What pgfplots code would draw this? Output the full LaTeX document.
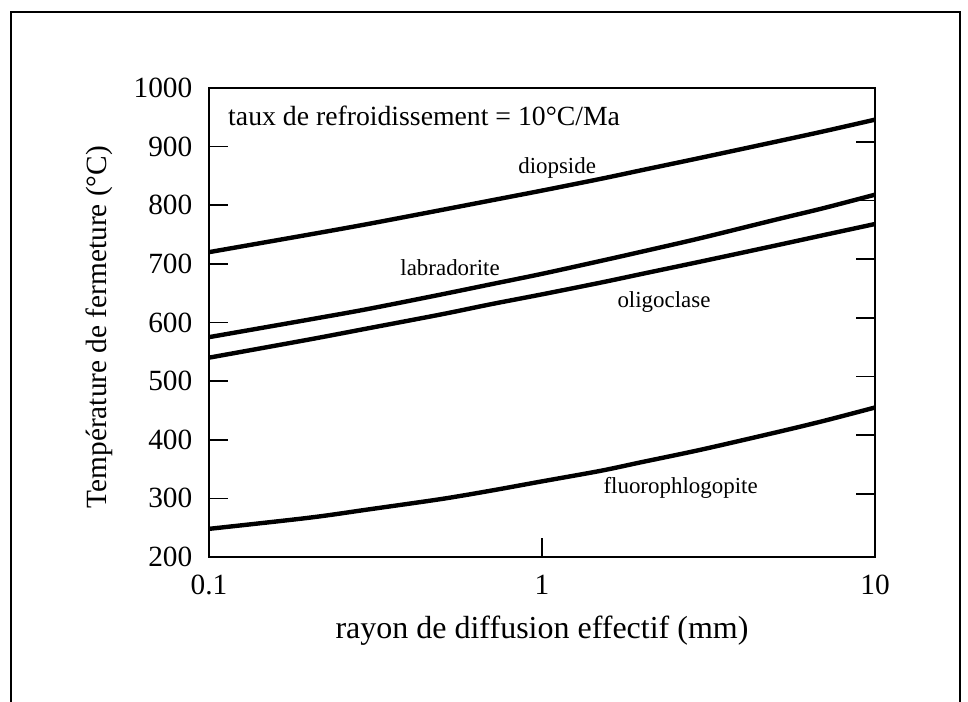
\documentclass[border=0pt]{standalone}
\usepackage{fontspec}
\setmainfont{Liberation Serif}
\usepackage{pgfplots}
\pgfplotsset{compat=1.18}
\begin{document}
\begin{tikzpicture}
\path[use as bounding box] (0pt,0pt) rectangle (726pt,526.5pt);
\draw[line width=1.3pt] (8.5pt,-10pt) -- (8.5pt,517.5pt) -- (720pt,517.5pt) -- (720pt,-10pt);
\begin{axis}[
  at={(156.75pt,108.75pt)}, anchor=south west,
  scale only axis, width=499.5pt, height=351.75pt,
  xmode=log, xmin=0.1, xmax=10, ymin=200, ymax=1000,
  axis line style={line width=1.4pt},
  xtick={0.1,1,10}, xticklabels={0.1,1,10},
  xminorticks=false, yminorticks=false,
  ytick={200,300,...,1000},
  xtick pos=bottom, ytick pos=left,
  tick align=inside, major tick length=14pt,
  tick style={line width=1.3pt, black},
  /pgf/number format/assume math mode=true,
  /pgf/number format/set thousands separator={},
  ticklabel style={font=\fontsize{22}{26}\selectfont},
  xticklabel style={yshift=-10pt},
  yticklabel style={xshift=-9pt},
  xlabel={rayon de diffusion effectif (mm)},
  ylabel={Température de fermeture (°C)},
  every axis x label/.style={at={(axis description cs:0.5,-0.158)}, anchor=center, font=\fontsize{24}{28}\selectfont},
  every axis y label/.style={at={(axis description cs:-0.164,0.49)}, anchor=center, rotate=90, font=\fontsize{22}{26}\selectfont},
  clip=false,
]
\addplot[black, line width=3.3pt, smooth] coordinates {
 (0.1,720) (0.2,750) (0.3,768) (0.5,792) (0.7,808) (1,825) (1.5,845) (2,860) (3,881) (5,908) (7,926) (10,946)};
\addplot[black, line width=3.3pt, smooth] coordinates {
 (0.1,575) (0.2,605) (0.3,623) (0.5,648) (0.7,665) (1,683) (1.5,705) (2,721) (3,744) (5,775) (7,795) (10,818)};
\addplot[black, line width=3.3pt, smooth] coordinates {
 (0.1,540) (0.2,571) (0.3,590) (0.5,614) (0.7,631) (1,648) (1.5,668) (2,683) (3,704) (5,731) (7,749) (10,768)};
\addplot[black, line width=3.3pt, smooth] coordinates {
 (0.1,248) (0.2,267) (0.3,281) (0.5,299) (0.7,313) (1,329) (1.5,347) (2,362) (3,383) (5,412) (7,432) (10,455)};
\node[anchor=base west, inner sep=0pt, font=\fontsize{20.8}{24}\selectfont] at (rel axis cs:0.0285,0.921) {taux de refroidissement = 10°C/Ma};
\node[anchor=base west, inner sep=0pt, font=\fontsize{17.2}{20}\selectfont] at (rel axis cs:0.464,0.817) {diopside};
\node[anchor=base west, inner sep=0pt, font=\fontsize{17.2}{20}\selectfont] at (rel axis cs:0.287,0.601) {labradorite};
\node[anchor=base west, inner sep=0pt, font=\fontsize{17.2}{20}\selectfont] at (rel axis cs:0.613,0.533) {oligoclase};
\node[anchor=base west, inner sep=0pt, font=\fontsize{17.2}{20}\selectfont] at (rel axis cs:0.592,0.136) {fluorophlogopite};
\end{axis}
\begin{axis}[
  at={(156.75pt,108.75pt)}, anchor=south west,
  scale only axis, width=499.5pt, height=351.75pt,
  xmode=log, xmin=0.1, xmax=10, ymin=200, ymax=1000,
  axis line style={draw=none},
  xtick=\empty, xminorticks=false, yminorticks=false,
  ytick={308,408,...,908}, yticklabels={},
  ytick pos=right, tick align=inside, major tick length=14pt,
  tick style={line width=1.3pt, black},
]
\end{axis}
\end{tikzpicture}
\end{document}
